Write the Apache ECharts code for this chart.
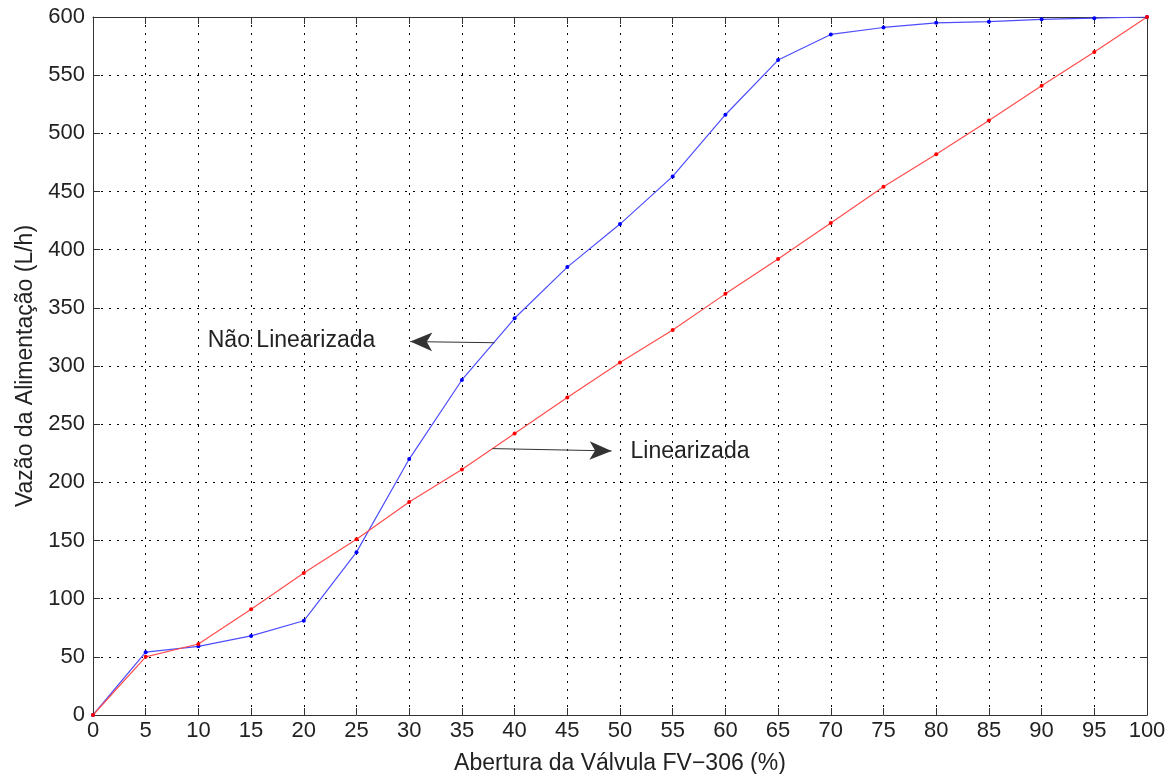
<!DOCTYPE html>
<html>
<head>
<meta charset="utf-8">
<script src="https://cdn.jsdelivr.net/npm/echarts@6/dist/echarts.min.js"></script>
<style>
  html, body { margin: 0; padding: 0; background: #fff; }
  #chart { width: 1169px; height: 774px; }
</style>
</head>
<body>
<div id="chart"></div>
<script>
// abertura da válvula (%)
const abertura = [0, 5, 10, 15, 20, 25, 30, 35, 40, 45, 50, 55, 60, 65, 70, 75, 80, 85, 90, 95, 100];
// vazão sem linearização (L/h)
const naoLinearizada = [0, 54, 59, 68, 81, 140, 220, 288, 341, 385, 422, 463, 516, 563, 585, 591, 595, 596, 598, 599, 600];
// vazão linearizada (L/h)
const linearizada = [0, 50, 61, 91, 122, 151, 183, 211, 242, 273, 303, 331, 362, 392, 423, 454, 482, 511, 541, 570, 600];

// setas de anotação: [x0, y0, x1, y1]
const setaNaoLin = [38.1, 320, 30.1, 321];
const setaLin = [37.9, 229, 49.2, 227];

const font = 'Liberation Sans, Arial, sans-serif';
const txt = '#222';

function pares(ys) {
  return abertura.map((x, i) => [x, ys[i]]);
}

function seta(c, label, dist) {
  return [
    { coord: [c[0], c[1]], symbol: 'none' },
    {
      coord: [c[2], c[3]], symbol: 'arrow', symbolSize: [14, 22],
      label: { show: true, position: 'end', formatter: label, distance: dist, color: txt, fontSize: 23, fontFamily: font }
    }
  ];
}

const eixoX = {
  type: 'value', min: 0, max: 100, interval: 5,
  axisLine: { show: true, onZero: false, lineStyle: { color: '#333', width: 1 } },
  axisTick: { show: true, inside: true, length: 7, lineStyle: { color: '#333' } },
  splitLine: { show: false }
};
const eixoY = {
  type: 'value', min: 0, max: 600, interval: 50,
  axisLine: { show: true, onZero: false, lineStyle: { color: '#333', width: 1 } },
  axisTick: { show: true, inside: true, length: 7, lineStyle: { color: '#333' } },
  splitLine: { show: false }
};

const chart = echarts.init(document.getElementById('chart'));
chart.setOption({
  animation: false,
  backgroundColor: '#fff',
  grid: { left: 93, right: 22, top: 17, bottom: 59, containLabel: false, outerBoundsMode: 'none' },
  xAxis: [
    Object.assign({}, eixoX, {
      position: 'bottom',
      name: 'Abertura da Válvula FV\u2212306 (%)',
      nameLocation: 'middle', nameGap: 37,
      nameTextStyle: { color: txt, fontSize: 23, fontFamily: font },
      axisLabel: { color: txt, fontSize: 22, fontFamily: font, margin: 5 },
      splitLine: { show: true, lineStyle: { color: '#000', type: [2, 6], width: 1 } }
    }),
    Object.assign({}, eixoX, { position: 'top', axisLabel: { show: false } })
  ],
  yAxis: [
    Object.assign({}, eixoY, {
      position: 'left',
      name: 'Vazão da Alimentação (L/h)',
      nameLocation: 'middle', nameGap: 55,
      nameTextStyle: { color: txt, fontSize: 23, fontFamily: font },
      axisLabel: { color: txt, fontSize: 22, fontFamily: font, margin: 8 },
      splitLine: { show: true, lineStyle: { color: '#000', type: [2, 6], width: 1 } }
    }),
    Object.assign({}, eixoY, { position: 'right', axisLabel: { show: false } })
  ],
  series: [
    {
      name: 'Não Linearizada', type: 'line', data: pares(naoLinearizada),
      symbol: 'circle', symbolSize: 4, showSymbol: true,
      lineStyle: { color: '#4d4dff', width: 1.2 },
      itemStyle: { color: '#0000ff' },
      markLine: {
        silent: true, animation: false,
        lineStyle: { color: '#333', width: 1, type: 'solid' },
        data: [seta(setaNaoLin, 'Não Linearizada', 35)]
      }
    },
    {
      name: 'Linearizada', type: 'line', data: pares(linearizada),
      symbol: 'circle', symbolSize: 4, showSymbol: true,
      lineStyle: { color: '#ff4d4d', width: 1.2 },
      itemStyle: { color: '#ff0000' },
      markLine: {
        silent: true, animation: false,
        lineStyle: { color: '#333', width: 1, type: 'solid' },
        data: [seta(setaLin, 'Linearizada', 19)]
      }
    }
  ]
});
</script>
</body>
</html>
